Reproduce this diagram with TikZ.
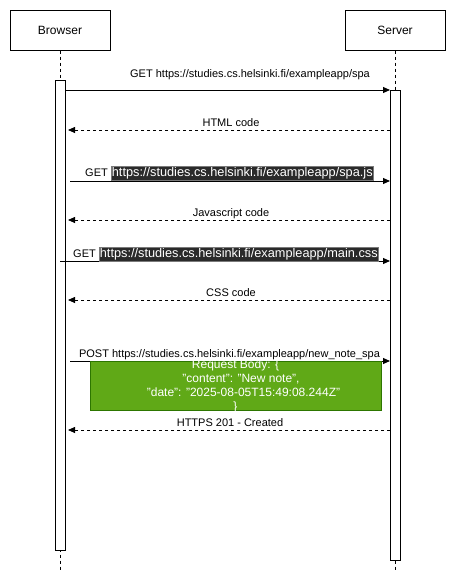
\documentclass[tikz,border=0pt]{standalone}
\usepackage{fontspec}
\setmainfont{Liberation Sans}
\usetikzlibrary{arrows.meta}
\definecolor{hl}{HTML}{2A2A2A}
\definecolor{hlborder}{HTML}{7A7A7A}
\definecolor{gfill}{HTML}{60A917}
\definecolor{gdraw}{HTML}{2D7600}
\newcommand{\hlurl}[1]{{\setlength\fboxsep{0.4pt}\setlength\fboxrule{0.6pt}\fcolorbox{hlborder}{hl}{\color{white}\fontsize{12.75}{14}\selectfont #1}}}
\begin{document}
\begin{tikzpicture}[x=1pt,y=-1pt,
  actor/.style={draw, line width=1pt, minimum width=100pt, minimum height=40pt, inner sep=0pt, font=\fontsize{12}{14}\selectfont},
  lifeline/.style={line width=0.8pt, dash pattern=on 3pt off 3pt},
  actbox/.style={draw, fill=white, line width=1pt, minimum width=10pt, minimum height=470pt, inner sep=0pt},
  msg/.style={line width=1pt, -{Triangle[length=7pt,width=6pt]}},
  reply/.style={line width=0.8pt, dash pattern=on 3pt off 3pt, -{Triangle[length=7pt,width=6pt]}},
  lbl/.style={inner sep=0pt, font=\fontsize{11}{13}\selectfont, anchor=base},
  lblw/.style={inner sep=0pt, font=\fontsize{11}{13}\selectfont, anchor=base west},
  greenbox/.style={draw=gdraw, fill=gfill, line width=1pt, minimum width=291pt, minimum height=49pt, inner sep=0pt},
  bodytext/.style={inner sep=0pt, text=white, align=center, font=\fontsize{12}{14}\selectfont}
]
\useasboundingbox (0,0) rectangle (456,581);
\fill[white] (0,0) rectangle (456,581);

% actors
\node[actor] (browser) at (60,30) {Browser};
\node[actor] (server) at (395,30) {Server};
\coordinate (bend) at (60,570);
\coordinate (send) at (395,570);
\draw[lifeline] (browser.south) -- (bend);
\draw[lifeline] (server.south) -- (send);

% activations
\node[actbox] (bact) at (60,315) {};
\node[actbox] (sact) at (395,325) {};

% 1 GET spa
\coordinate (m1s) at (65,90); \coordinate (m1e) at (390,90);
\draw[msg] (m1s) -- (m1e);
\node[lbl] (l1) at (250,77) {GET https://studies.cs.helsinki.fi/exampleapp/spa};

% 2 HTML code
\coordinate (m2s) at (390,130); \coordinate (m2e) at (68,130);
\draw[reply] (m2s) -- (m2e);
\node[lbl] (l2) at (231,126) {HTML code};

% 3 GET spa.js
\coordinate (m3s) at (70,181); \coordinate (m3e) at (390,181);
\draw[msg] (m3s) -- (m3e);
\node[lblw] (l3) at (85,176.5) {GET \hlurl{https://studies.cs.helsinki.fi/exampleapp/spa.js}};

% 4 Javascript code
\coordinate (m4s) at (390,220); \coordinate (m4e) at (68,220);
\draw[reply] (m4s) -- (m4e);
\node[lbl] (l4) at (231,216) {Javascript code};

% 5 GET main.css
\coordinate (m5s) at (60,261); \coordinate (m5e) at (390,261);
\draw[msg] (m5s) -- (m5e);
\node[lblw] (l5) at (73,257.5) {GET \hlurl{https://studies.cs.helsinki.fi/exampleapp/main.css}};

% 6 CSS code
\coordinate (m6s) at (390,300); \coordinate (m6e) at (68,300);
\draw[reply] (m6s) -- (m6e);
\node[lbl] (l6) at (231,296) {CSS code};

% 7 POST
\coordinate (m7s) at (70,361); \coordinate (m7e) at (390,361);
\draw[msg] (m7s) -- (m7e);
\node[lbl] (l7) at (229.5,357) {POST https://studies.cs.helsinki.fi/exampleapp/new\_note\_spa};

% request body
\node[greenbox] (body) at (235.5,385.5) {};
\node[bodytext] (bodyt) at (235.5,386.5) {Request Body: \{\\\hspace*{11pt}"content": "New note",\\\hspace*{16pt}"date": "2025-08-05T15:49:08.244Z"\\\}};

% 8 HTTPS 201
\coordinate (m8s) at (390,430); \coordinate (m8e) at (68,430);
\draw[reply] (m8s) -- (m8e);
\node[lbl] (l8) at (230,426) {HTTPS 201 - Created};
\end{tikzpicture}
\end{document}
